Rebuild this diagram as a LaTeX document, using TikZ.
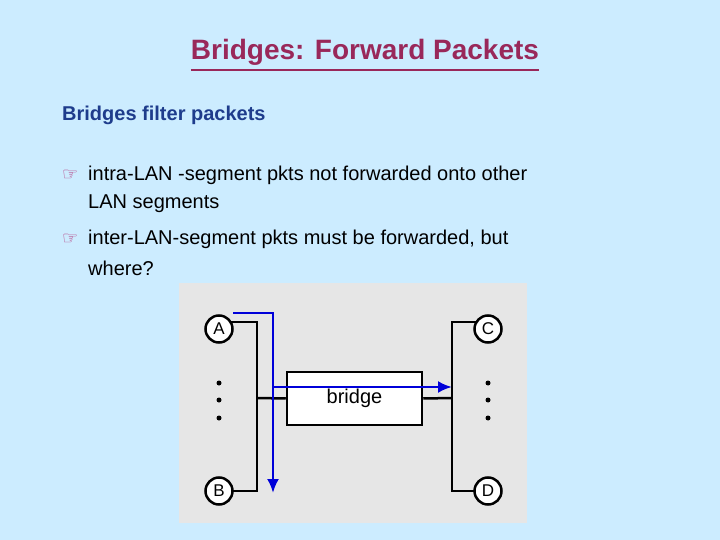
\documentclass[tikz,border=0pt]{standalone}
\usepackage{fontspec}
\setmainfont{Liberation Sans}
\newfontfamily\dejavu{DejaVu Sans}
\usetikzlibrary{arrows.meta}
\definecolor{bgc}{RGB}{204,236,255}
\definecolor{ttl}{RGB}{153,40,90}
\definecolor{subc}{RGB}{30,60,140}
\definecolor{panel}{RGB}{230,230,230}
\begin{document}
\begin{tikzpicture}[x=1pt,y=-1pt,
  host/.style={circle,draw,line width=2.5pt,fill=white,minimum size=27pt,inner sep=0pt,font=\fontsize{17}{17}\selectfont},
  bus/.style={line width=2.5pt,black},
  flow/.style={line width=2.5pt,blue!85!black,-{Latex[length=14pt,width=12pt]}},
  txt/.style={anchor=west,font=\fontsize{20}{24}\selectfont,inner sep=0pt},
  hand/.style={anchor=west,inner sep=0pt,text=magenta!70!black,font=\dejavu\fontsize{18}{18}\selectfont},
  dot/.style={circle,fill=black,inner sep=0pt,minimum size=5pt}]
\fill[bgc] (0,0) rectangle (720,540);
\node[font=\bfseries\fontsize{28}{30}\selectfont,text=ttl,inner sep=0pt] (title) at (365,52) {Bridges: Forward Packets};
\draw[ttl,line width=2pt] ([yshift=-5pt]title.south west) -- ([yshift=-5pt]title.south east);
\node[txt,font=\bfseries\fontsize{20}{24}\selectfont,text=subc] (sub) at (62,115) {Bridges filter packets};
\node[hand] (h1) at (62,175) {☞};
\node[txt] (t1) at (88,175) {intra-LAN -segment pkts not forwarded onto other};
\node[txt] (t2) at (88,204) {LAN segments};
\node[hand] (h2) at (62,239) {☞};
\node[txt] (t3) at (88,239) {inter-LAN-segment pkts must be forwarded, but};
\node[txt] (t4) at (88,268) {where?};
\fill[panel] (179,283) rectangle (527,523);
\coordinate (lt) at (257,322); \coordinate (lb) at (257,491); \coordinate (lm) at (257,398);
\coordinate (rt) at (452,322); \coordinate (rb) at (452,491); \coordinate (rm) at (452,398);
\draw[bus] (219,322) -- (lt) -- (lb) -- (219,491);
\draw[line width=1.5pt] (488,322) -- (rt) -- (rb) -- (488,491);
\node[draw,line width=2.5pt,fill=white,minimum width=135pt,minimum height=53pt,font=\fontsize{20}{20}\selectfont] (br) at (354.5,398.5) {bridge};
\draw[bus] (lm) -- (br.west);
\draw[bus] (br.east) -- (rm);
\node[host] (A) at (219,329) {A};
\node[host] (B) at (219,491) {B};
\node[host] (C) at (488,329) {C};
\node[host] (D) at (488,491) {D};
\foreach \y in {383,400,418} {\node[dot] at (219,\y) {}; \node[dot] at (488,\y) {};}
\coordinate (a1) at (233,313); \coordinate (a2) at (273,313); \coordinate (a3) at (273,493);
\coordinate (b1) at (272,387); \coordinate (b2) at (452,387);
\draw[flow] (a1) -- (a2) -- (a3);
\draw[flow] (b1) -- (b2);
\end{tikzpicture}
\end{document}
